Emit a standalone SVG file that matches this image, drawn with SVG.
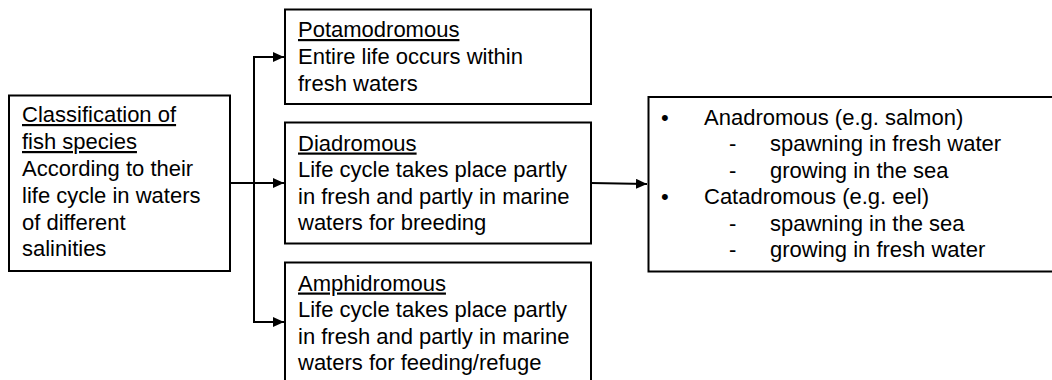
<svg xmlns="http://www.w3.org/2000/svg" width="1052" height="380" viewBox="0 0 1052 380">
<style>
.box{fill:#fff;stroke:#000;stroke-width:2}
.t{font-family:"Liberation Sans",Arial,sans-serif;font-size:22px;fill:#000}
.u{text-decoration:underline}
.c{fill:none;stroke:#000;stroke-width:2}
</style>
<defs>
<marker id="ah" viewBox="0 0 11 10" refX="11" refY="5" markerWidth="11" markerHeight="10" markerUnits="userSpaceOnUse" orient="auto">
<path d="M0,0 L11,5 L0,10 Z" fill="#000"/>
</marker>
</defs>
<rect width="1052" height="380" fill="#fff"/>
<g id="connectors">
<path class="c" d="M230,183 H284" marker-end="url(#ah)"/>
<path class="c" d="M284,57 H254 V322 H284" marker-end="url(#ah)"/>
<path class="c" d="M254,57 H284" marker-end="url(#ah)"/>
<path class="c" d="M591,183 L647,184" marker-end="url(#ah)"/>
</g>
<g id="classification">
<rect class="box" x="9" y="95.5" width="221" height="175.5"/>
<text class="t"><tspan class="u" x="22" y="122">Classification of</tspan><tspan class="u" x="22" y="149">fish species</tspan><tspan x="22" y="176">According to their</tspan><tspan x="22" y="203">life cycle in waters</tspan><tspan x="22" y="229.5">of different</tspan><tspan x="22" y="256">salinities</tspan></text>
</g>
<g id="potamodromous">
<rect class="box" x="285" y="9.5" width="306" height="94.5"/>
<text class="t"><tspan class="u" x="298" y="37">Potamodromous</tspan><tspan x="298" y="64">Entire life occurs within</tspan><tspan x="298" y="91">fresh waters</tspan></text>
</g>
<g id="diadromous">
<rect class="box" x="285" y="122.5" width="306" height="121"/>
<text class="t"><tspan class="u" x="298" y="150.5">Diadromous</tspan><tspan x="298" y="177">Life cycle takes place partly</tspan><tspan x="298" y="203.5">in fresh and partly in marine</tspan><tspan x="298" y="230">waters for breeding</tspan></text>
</g>
<g id="amphidromous">
<rect class="box" x="285" y="262.5" width="306" height="121"/>
<text class="t"><tspan class="u" x="298" y="290.5">Amphidromous</tspan><tspan x="298" y="317">Life cycle takes place partly</tspan><tspan x="298" y="343.5">in fresh and partly in marine</tspan><tspan x="298" y="370">waters for feeding/refuge</tspan></text>
</g>
<g id="types">
<rect class="box" x="648.5" y="97" width="406" height="174.5"/>
<text class="t">
<tspan x="661" y="124.5">•</tspan><tspan x="704" y="124.5">Anadromous (e.g. salmon)</tspan>
<tspan x="729" y="151">-</tspan><tspan x="770" y="151">spawning in fresh water</tspan>
<tspan x="729" y="177.5">-</tspan><tspan x="770" y="177.5">growing in the sea</tspan>
<tspan x="661" y="204">•</tspan><tspan x="704" y="204">Catadromous (e.g. eel)</tspan>
<tspan x="729" y="230.5">-</tspan><tspan x="770" y="230.5">spawning in the sea</tspan>
<tspan x="729" y="257">-</tspan><tspan x="770" y="257">growing in fresh water</tspan>
</text>
</g>
</svg>
